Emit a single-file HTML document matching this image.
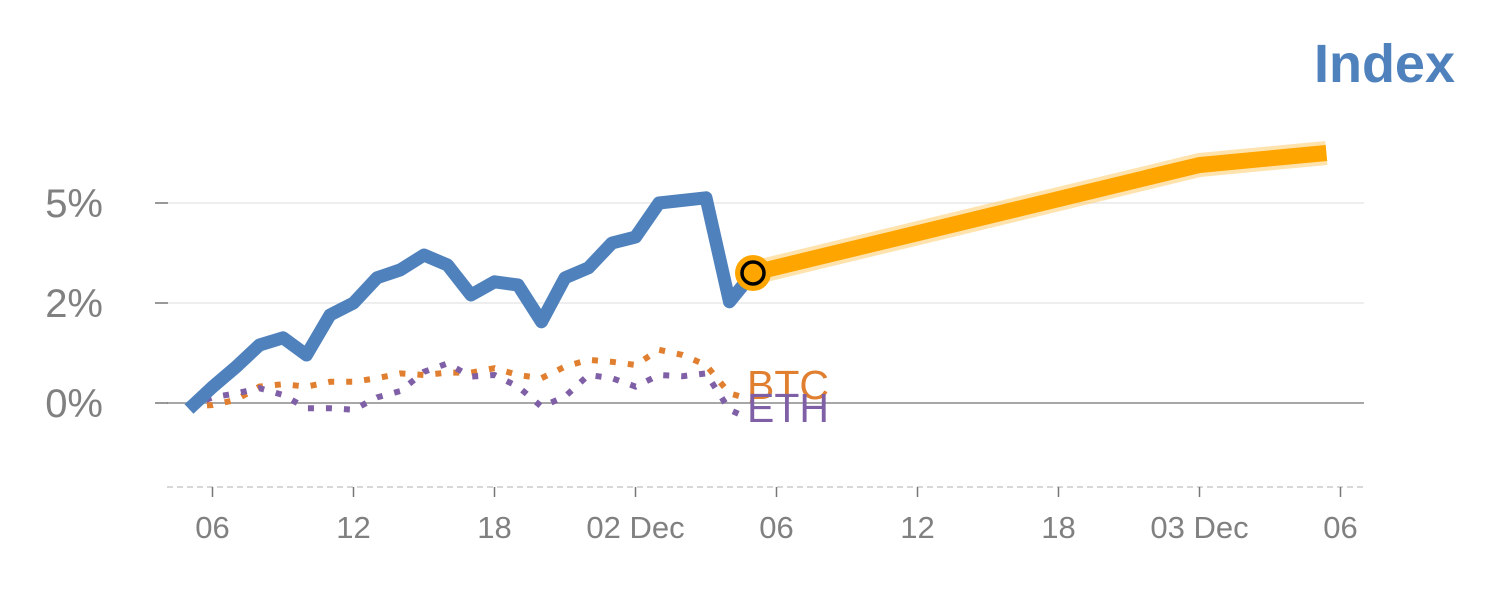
<!DOCTYPE html>
<html><head><meta charset="utf-8"><style>
html,body{margin:0;padding:0;background:#fff;width:1500px;height:600px;overflow:hidden}
svg text{font-family:"Liberation Sans",Arial,sans-serif}
</style></head><body>
<svg id="chart" width="1500" height="600" xmlns="http://www.w3.org/2000/svg">
<text x="1455" y="82" text-anchor="end" font-size="54" font-weight="bold" fill="#4f81bd">Index</text>
<g id="grid"></g><g id="axes"></g><g id="series"></g>
</svg>
<script>
const yTicks=[0,2.5,5];
const yTickLabels=["0%","2%","5%"];
const xTickHours=[1,7,13,19,25,31,37,43,49];
const xTickLabels=["06","12","18","02 Dec","06","12","18","03 Dec","06"];
const indexHours=[0,1,2,3,4,5,6,7,8,9,10,11,12,13,14,15,16,17,18,19,20,22,23,24];
const indexValues=[-0.15,0.4,0.9,1.45,1.63,1.2,2.2,2.5,3.13,3.33,3.7,3.45,2.7,3.03,2.95,2.03,3.13,3.38,4.0,4.15,5.0,5.13,2.53,3.25];
const forecastHours=[24,43,48.4];
const forecastValues=[3.25,5.95,6.25];
const btcHours=[0,1,2,3,4,5,6,7,8,9,10,11,12,13,14,15,16,17,18,19,20,21,22,23,24];
const btcValues=[-0.09,-0.05,0.08,0.41,0.47,0.41,0.53,0.53,0.62,0.74,0.70,0.76,0.76,0.87,0.70,0.62,0.91,1.08,1.03,0.95,1.33,1.2,0.95,0.24,0.08];
const ethHours=[0,1,2,3,4,5,6,7,8,9,10,11,12,13,14,15,16,17,18,19,20,21,22,23,23.8];
const ethValues=[-0.09,0.14,0.24,0.37,0.2,-0.13,-0.13,-0.17,0.14,0.3,0.78,0.99,0.66,0.7,0.41,-0.09,0.16,0.7,0.62,0.41,0.7,0.67,0.74,-0.17,-0.38];
const NS="http://www.w3.org/2000/svg";
const xs=h=>189+23.5*h;
const ys=v=>403-40*v;
function mk(tag,attrs,parent){const e=document.createElementNS(NS,tag);for(const k in attrs)e.setAttribute(k,attrs[k]);parent.appendChild(e);return e;}
const grid=document.getElementById('grid'),axes=document.getElementById('axes'),ser=document.getElementById('series');
yTicks.forEach((t,i)=>{
  const g=mk('line',{x1:167,x2:1364,y1:ys(t),y2:ys(t),stroke:t===0?'#8a8a8a':'#e4e4e4','stroke-width':t===0?1.5:1.2},grid);
  
  
  const tk=mk('line',{x1:155,x2:168,y1:ys(t),y2:ys(t),stroke:'#777','stroke-width':1.5},axes);
  
  
  const tx=mk('text',{x:103,y:ys(t)+14,'text-anchor':'end','font-size':40,fill:'#808080'},axes);
  tx.textContent=yTickLabels[i];
  
  
});
const base=mk('line',{x1:167,x2:1365,y1:487,y2:487,stroke:'#d8d8d8','stroke-width':2,'stroke-dasharray':'6 4'},axes);


xTickHours.forEach((h,i)=>{
  const tk=mk('line',{x1:xs(h),x2:xs(h),y1:487,y2:497,stroke:'#777','stroke-width':1.5},axes);
  
  
  const tx=mk('text',{x:xs(h),y:538,'text-anchor':'middle','font-size':31,fill:'#808080'},axes);
  tx.textContent=xTickLabels[i];
  
  
});
const pts=(H,V)=>H.map((h,i)=>xs(h)+','+ys(V[i])).join(' ');
const btc=mk('polyline',{points:pts(btcHours,btcValues),fill:'none',stroke:'#e07f30','stroke-width':6,'stroke-dasharray':'6 12'},ser);


const eth=mk('polyline',{points:pts(ethHours,ethValues),fill:'none',stroke:'#7f5fa6','stroke-width':6,'stroke-dasharray':'6 12'},ser);


const idx=mk('polyline',{points:pts(indexHours,indexValues),fill:'none',stroke:'#4f81bd','stroke-width':13,'stroke-linejoin':'round'},ser);


const halo=mk('polyline',{points:pts(forecastHours,forecastValues),fill:'none',stroke:'#ffc860','stroke-opacity':0.5,'stroke-width':24},ser);


const fc=mk('polyline',{points:pts(forecastHours,forecastValues),fill:'none',stroke:'#ffa500','stroke-width':16},ser);


const lh=forecastHours[0],lv=forecastValues[0];
const m1=mk('circle',{cx:xs(lh),cy:ys(lv),r:18,fill:'#ffa500'},ser);


const m2=mk('circle',{cx:xs(lh),cy:ys(lv),r:11,fill:'#ffa500',stroke:'#000','stroke-width':3.5},ser);


const bl=mk('text',{x:747,y:399,'font-size':41,fill:'#e07f30'},ser);
bl.textContent='BTC';


const el=mk('text',{x:747,y:422,'font-size':41,fill:'#7f5fa6'},ser);
el.textContent='ETH';


</script>
</body></html>
